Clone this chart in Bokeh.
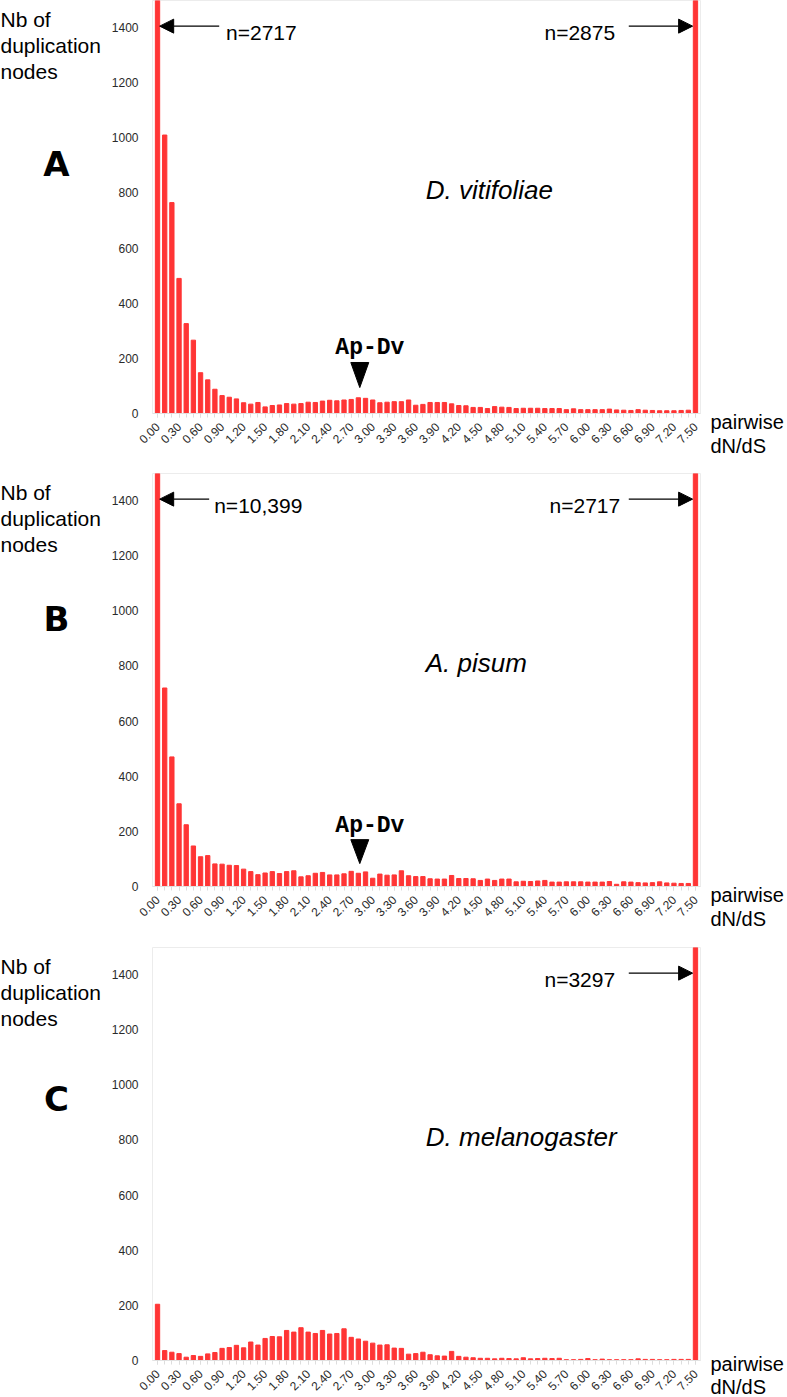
from bokeh.plotting import figure
from bokeh.models import (Range1d, FixedTicker, NumeralTickFormatter, Label,
                          Arrow, NormalHead)
from bokeh.layouts import column, row
from bokeh.embed import file_html
from bokeh.resources import INLINE

# ---- data -------------------------------------------------------------
bins = [round(0.1 * i, 1) for i in range(76)]          # pairwise dN/dS classes 0.00 .. 7.50
x_tick_values = [round(0.3 * k, 2) for k in range(26)]  # 0.00, 0.30, ... 7.50
y_tick_values = [0, 200, 400, 600, 800, 1000, 1200, 1400]

vitifoliae = [2717, 1010, 765, 490, 326, 266, 148, 122, 88, 65,
              59, 53, 39, 34, 40, 24, 29, 31, 36, 34,
              36, 41, 40, 45, 48, 46, 49, 51, 57, 55,
              49, 39, 41, 43, 43, 49, 30, 33, 40, 40,
              40, 35, 29, 28, 22, 22, 18, 25, 23, 22,
              18, 19, 19, 19, 18, 18, 18, 14, 17, 14,
              14, 14, 14, 16, 13, 12, 11, 14, 12, 11,
              10, 10, 10, 11, 12, 2875]

pisum = [10399, 720, 470, 300, 224, 147, 108, 112, 82, 81,
         77, 76, 63, 54, 43, 49, 54, 47, 54, 57,
         35, 39, 48, 51, 42, 42, 46, 55, 48, 53,
         30, 45, 41, 42, 57, 39, 36, 36, 28, 27,
         27, 40, 29, 29, 28, 22, 27, 22, 27, 27,
         17, 19, 18, 20, 22, 16, 16, 17, 17, 17,
         16, 16, 16, 18, 8, 17, 16, 14, 13, 14,
         17, 13, 12, 11, 11, 2717]

melanogaster = [204, 36, 30, 25, 12, 18, 15, 24, 29, 44,
                47, 55, 46, 67, 56, 80, 87, 86, 109, 103,
                119, 103, 98, 109, 96, 98, 115, 84, 78, 70,
                63, 56, 57, 45, 44, 23, 25, 30, 21, 17,
                16, 33, 15, 12, 10, 8, 8, 6, 8, 7,
                6, 10, 6, 7, 8, 7, 8, 3, 3, 4,
                7, 3, 5, 3, 3, 3, 3, 6, 4, 4,
                3, 3, 4, 4, 4, 3297]

species = ["D. vitifoliae", "A. pisum", "D. melanogaster"]
letters = ["A", "B", "C"]
left_counts = ["n=2717", "n=10,399", None]
right_counts = ["n=2875", "n=2717", "n=3297"]

# ---- style / layout ---------------------------------------------------
RED = "#ff3535"
FONT = "Liberation Sans"
FRAME_H = 413
Y_END = 1498
LEFT_W, MAIN_W, RIGHT_W = 108, 600, 79

panels = [
    dict(values=vitifoliae, bottom=60, left_arrow_start=0.86, left_text_x=0.955,
         right_text_x=6.38, letter_base=163, apdv=(236, 185, 94), xtitle=(421, 445)),
    dict(values=pisum, bottom=61, left_arrow_start=0.72, left_text_x=0.79,
         right_text_x=6.45, letter_base=145, apdv=(221, 170, 83), xtitle=(421, 445)),
    dict(values=melanogaster, bottom=37, left_arrow_start=None, left_text_x=None,
         right_text_x=6.38, letter_base=151, apdv=None, xtitle=(416, 439)),
]


def side_figure(w, h):
    # y measured upward in pixels from the panel bottom
    f = figure(frame_width=w, frame_height=h, x_range=Range1d(0, w), y_range=Range1d(0, h),
               x_axis_location=None, y_axis_location=None,
               output_backend="svg", toolbar_location=None,
               min_border=0, min_border_left=0, min_border_right=0,
               min_border_top=0, min_border_bottom=0)
    f.grid.visible = False
    f.outline_line_color = None
    return f


rows = []
for idx, cfg in enumerate(panels):
    H = FRAME_H + cfg["bottom"]
    p = figure(width=MAIN_W, height=H,
               x_range=Range1d(-0.07, 7.57), y_range=Range1d(0, Y_END),
               output_backend="svg", toolbar_location=None,
               min_border_left=40, min_border_right=8,
               min_border_top=0, min_border_bottom=cfg["bottom"])
    p.outline_line_color = "#ececec"
    p.xgrid.grid_line_color = None
    p.ygrid.grid_line_color = None

    p.vbar(x=bins, top=cfg["values"], width=0.06, color=RED)

    # axes
    p.xaxis.ticker = FixedTicker(ticks=x_tick_values, minor_ticks=bins)
    p.xaxis.formatter = NumeralTickFormatter(format="0.00")
    p.xaxis.major_label_orientation = 0.785398
    p.xaxis.axis_line_color = "#e2e2e2"
    p.xaxis.major_tick_line_color = "#dddddd"
    p.xaxis.minor_tick_line_color = "#dddddd"
    p.xaxis.major_tick_in = 0
    p.xaxis.major_tick_out = 4
    p.xaxis.minor_tick_in = 0
    p.xaxis.minor_tick_out = 4
    p.xaxis.major_label_standoff = 7
    p.xaxis.major_label_text_font = FONT
    p.xaxis.major_label_text_font_size = "12px"
    p.xaxis.major_label_text_color = "#2a2a2a"

    p.yaxis.ticker = FixedTicker(ticks=y_tick_values)
    p.yaxis.axis_line_color = None
    p.yaxis.major_tick_line_color = None
    p.yaxis.minor_tick_line_color = None
    p.yaxis.major_label_standoff = 8
    p.yaxis.major_label_text_font = FONT
    p.yaxis.major_label_text_font_size = "12px"
    p.yaxis.major_label_text_color = "#2a2a2a"

    # species name
    p.add_layout(Label(x=3.74, y=809, text=species[idx], text_font=FONT,
                       text_font_style="italic", text_font_size="26px",
                       text_color="black", text_align="left",
                       text_baseline="alphabetic"))

    # off-scale counts with arrows
    if left_counts[idx] is not None:
        p.add_layout(Arrow(end=NormalHead(size=14, fill_color="black", line_color="black"),
                           x_start=cfg["left_arrow_start"], y_start=1405,
                           x_end=0.03, y_end=1405, line_width=1.3, line_color="black"))
        p.add_layout(Label(x=cfg["left_text_x"], y=1382, text=left_counts[idx],
                           text_font=FONT, text_font_size="21px", text_color="black",
                           text_align="left", text_baseline="alphabetic"))
    p.add_layout(Arrow(end=NormalHead(size=14, fill_color="black", line_color="black"),
                       x_start=6.57, y_start=1405, x_end=7.46, y_end=1405,
                       line_width=1.3, line_color="black"))
    p.add_layout(Label(x=cfg["right_text_x"], y=1382, text=right_counts[idx],
                       text_font=FONT, text_font_size="21px", text_color="black",
                       text_align="right", text_baseline="alphabetic"))

    # Ap-Dv marker
    if cfg["apdv"] is not None:
        text_y, tri_top, tri_tip = cfg["apdv"]
        ax = 2.82
        p.patch(x=[ax - 0.125, ax + 0.125, ax], y=[tri_top, tri_top, tri_tip],
                color="black")
        p.add_layout(Label(x=2.96, y=text_y, text="Ap-Dv", text_font="Liberation Mono",
                           text_font_style="bold", text_font_size="23px",
                           text_color="black", text_align="center",
                           text_baseline="alphabetic"))

    # left side: y-axis title and panel letter
    left = side_figure(LEFT_W, H)
    left.add_layout(Label(x=0, y=H - 7, text="Nb of\nduplication\nnodes",
                          text_font=FONT, text_font_size="21px", text_color="black",
                          text_align="left", text_baseline="top", text_line_height=1.15))
    left.add_layout(Label(x=56, y=H - cfg["letter_base"], text=letters[idx],
                          text_font="DejaVu Sans", text_font_style="bold",
                          text_font_size="34px", text_color="black",
                          text_align="center", text_baseline="alphabetic"))

    # right side: x-axis title
    right = side_figure(RIGHT_W, H)
    t1, t2 = cfg["xtitle"]
    right.add_layout(Label(x=2, y=H - t1, text="pairwise", text_font=FONT,
                           text_font_size="20px", text_color="black",
                           text_align="left", text_baseline="alphabetic"))
    right.add_layout(Label(x=2, y=H - t2, text="dN/dS", text_font=FONT,
                           text_font_size="20px", text_color="black",
                           text_align="left", text_baseline="alphabetic"))

    rows.append(row(left, p, right, spacing=0))

layout = column(*rows, spacing=0)
open("out.html", "w").write(file_html(layout, INLINE))
